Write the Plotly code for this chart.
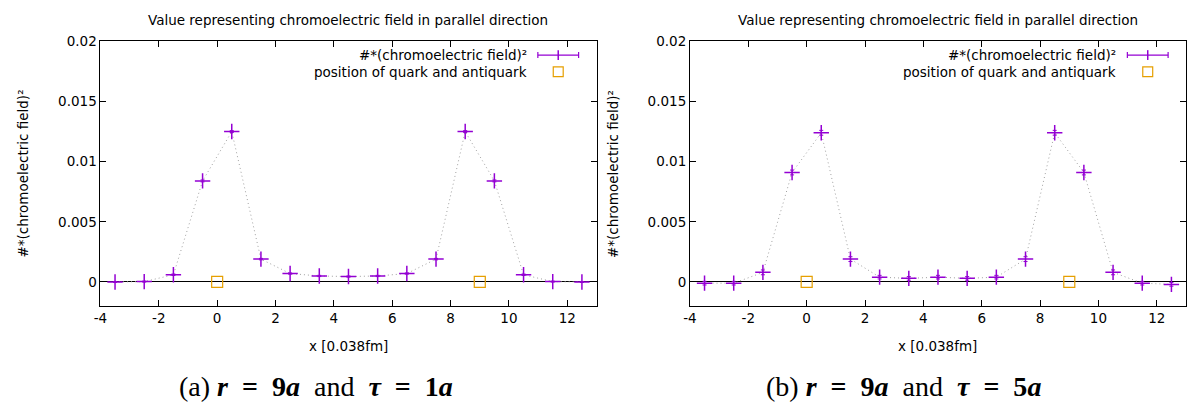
import plotly.graph_objects as go

# ---------------- data ----------------
x_pos = [-3.5, -2.5, -1.5, -0.5, 0.5, 1.5, 2.5, 3.5, 4.5, 5.5, 6.5, 7.5, 8.5, 9.5, 10.5, 11.5, 12.5]
field_a = [0.0, 0.00003, 0.0006, 0.0084, 0.0125, 0.0019, 0.0007, 0.0005, 0.00045,
           0.0005, 0.0007, 0.0019, 0.0125, 0.0084, 0.0006, 0.00003, 0.0]
err_a = [0.00004, 0.00004, 0.00006, 0.00008, 0.00008, 0.00006, 0.00005, 0.00005, 0.00005,
         0.00005, 0.00005, 0.00006, 0.00008, 0.00008, 0.00006, 0.00004, 0.00004]
field_b = [-0.0001, -0.0001, 0.0008, 0.0091, 0.0124, 0.0019, 0.0004, 0.0003, 0.0004,
           0.0003, 0.0004, 0.0019, 0.0124, 0.0091, 0.0008, -0.0001, -0.0002]
err_b = [0.00015, 0.00015, 0.0002, 0.0002, 0.0002, 0.0002, 0.00015, 0.00015, 0.00015,
         0.00015, 0.00015, 0.0002, 0.0002, 0.0002, 0.0002, 0.00015, 0.00015]
quark_x = [0, 9]
quark_y = [0, 0]

title_text = "Value representing chromoelectric field in parallel direction"
ytitle = "#*(chromoelectric field)²"
xtitle = "x [0.038fm]"
legend_1 = "#*(chromoelectric field)²"
legend_2 = "position of quark and antiquark"
SP = "&nbsp;"
captions = [
    "(a) <b><i>r</i>" + SP * 2 + "=" + SP * 2 + "9<i>a</i></b>" + SP + " and " + SP
    + "<b><i>τ</i>" + SP * 2 + "=" + SP * 2 + "1<i>a</i></b>",
    "(b) <b><i>r</i>" + SP * 2 + "=" + SP * 2 + "9<i>a</i></b>" + SP + " and " + SP
    + "<b><i>τ</i>" + SP * 2 + "=" + SP * 2 + "5<i>a</i></b>",
]
x_ticks = [-4, -2, 0, 2, 4, 6, 8, 10, 12]
x_ticklabels = ["-4", "-2", "0", "2", "4", "6", "8", "10", "12"]
y_ticks = [0, 0.005, 0.01, 0.015, 0.02]
y_ticklabels = ["0", "0.005", "0.01", "0.015", "0.02"]

# ---------------- layout constants ----------------
W, H = 1187, 408
PURPLE = "#9400d3"
ORANGE = "#e69f00"
FONT = "DejaVu Sans"
FS = 13.5

panels = [
    dict(x0=94, x1=593, data=field_a, err=err_a, cap=captions[0], capx=311),
    dict(x0=687, x1=1186, data=field_b, err=err_b, cap=captions[1], capx=902),
]
ytop, ybot = 34, 304

fig = go.Figure()
layout = dict(
    width=W, height=H,
    margin=dict(l=0, r=0, t=0, b=0),
    paper_bgcolor="white", plot_bgcolor="white",
    showlegend=False,
    font=dict(family=FONT, size=FS, color="black"),
)
annotations = []
shapes = []


def px(v):
    return v / W


def py(v):
    return 1 - v / H


for i, p in enumerate(panels):
    n = "" if i == 0 else str(i + 1)
    xa, ya = "x" + n, "y" + n
    fig.add_trace(go.Scatter(
        x=x_pos, y=p["data"], xaxis=xa, yaxis=ya, mode="lines",
        line=dict(color="#a0a0a0", width=1, dash="1px,3px"), hoverinfo="skip"))
    fig.add_trace(go.Scatter(
        x=x_pos, y=p["data"], xaxis=xa, yaxis=ya, mode="markers",
        marker=dict(symbol="cross-thin", size=11, line=dict(color=PURPLE, width=1.5)),
        error_y=dict(type="data", array=p["err"], color=PURPLE, thickness=1, width=2),
        name=legend_1))
    fig.add_trace(go.Scatter(
        x=quark_x, y=quark_y, xaxis=xa, yaxis=ya, mode="markers",
        marker=dict(symbol="square-open", size=11, color=ORANGE, line=dict(color=ORANGE, width=1.2)),
        name=legend_2))

    axcommon = dict(showline=True, linecolor="black", linewidth=1, mirror="ticks",
                    ticks="inside", ticklen=6, tickcolor="black", showgrid=False,
                    tickfont=dict(family=FONT, size=FS, color="black"))
    layout["xaxis" + n] = dict(
        axcommon, domain=[p["x0"] / W, p["x1"] / W], range=[-4, 13],
        tickvals=x_ticks, ticktext=x_ticklabels, zeroline=False, anchor=ya)
    layout["yaxis" + n] = dict(
        axcommon, domain=[1 - ybot / H, 1 - ytop / H], range=[-0.002, 0.02],
        tickvals=y_ticks, ticktext=y_ticklabels, zeroline=True,
        zerolinecolor="black", zerolinewidth=1, anchor=xa)

    cx = (p["x0"] + p["x1"]) / 2
    annotations.append(dict(text=title_text, x=px(cx), y=py(12), xref="paper", yref="paper",
                            showarrow=False, xanchor="center", yanchor="middle",
                            font=dict(family=FONT, size=FS)))
    annotations.append(dict(text=xtitle, x=px(cx), y=py(345), xref="paper", yref="paper",
                            showarrow=False, xanchor="center", yanchor="middle",
                            font=dict(family=FONT, size=FS)))
    annotations.append(dict(text=ytitle, x=px(p["x0"] - 78), y=py((ytop + ybot) / 2),
                            xref="paper", yref="paper", textangle=-90,
                            showarrow=False, xanchor="center", yanchor="middle",
                            font=dict(family=FONT, size=FS)))
    annotations.append(dict(text=p["cap"], x=px(p["capx"]), y=py(386), xref="paper", yref="paper",
                            showarrow=False, xanchor="center", yanchor="middle",
                            font=dict(family="Liberation Serif", size=28)))

    # legend (key on the right of the text, like the reference)
    off = p["x0"] - 94
    tx = 525 + off
    l1, l2 = 48, 65
    annotations.append(dict(text=legend_1, x=px(tx), y=py(l1), xref="paper", yref="paper",
                            showarrow=False, xanchor="right", yanchor="middle",
                            font=dict(family=FONT, size=FS)))
    annotations.append(dict(text=legend_2, x=px(tx), y=py(l2), xref="paper", yref="paper",
                            showarrow=False, xanchor="right", yanchor="middle",
                            font=dict(family=FONT, size=FS)))
    sx0, sx1 = 534 + off, 575 + off
    smid = (sx0 + sx1) / 2
    lw = dict(color=PURPLE, width=1.2)
    shapes.append(dict(type="line", xref="paper", yref="paper", x0=px(sx0), x1=px(sx1),
                       y0=py(l1), y1=py(l1), line=lw))
    for sx in (sx0, sx1):
        shapes.append(dict(type="line", xref="paper", yref="paper", x0=px(sx), x1=px(sx),
                           y0=py(l1 - 3), y1=py(l1 + 3), line=lw))
    shapes.append(dict(type="line", xref="paper", yref="paper", x0=px(smid), x1=px(smid),
                       y0=py(l1 - 5), y1=py(l1 + 5), line=dict(color=PURPLE, width=1.5)))
    shapes.append(dict(type="rect", xref="paper", yref="paper", x0=px(smid - 5), x1=px(smid + 5),
                       y0=py(l2 - 5), y1=py(l2 + 5), line=dict(color=ORANGE, width=1.2)))

layout["annotations"] = annotations
layout["shapes"] = shapes
fig.update_layout(**layout)
fig.write_html(
    "out.html",
    config={"displayModeBar": False},
    post_script="document.body.style.margin='0';document.body.style.overflow='hidden';",
)
